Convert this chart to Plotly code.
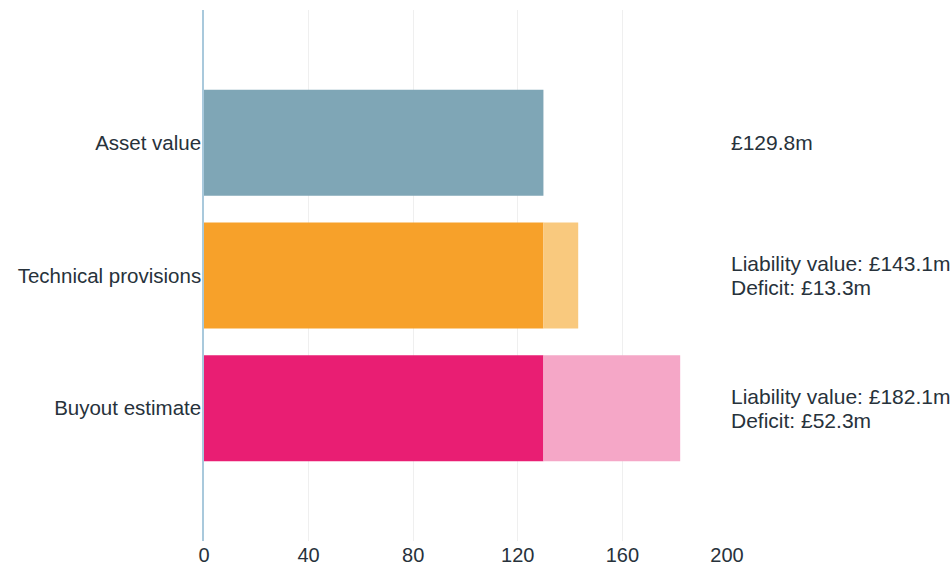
import plotly.graph_objects as go

# Scheme funding positions (£m)
categories = ["Asset value", "Technical provisions", "Buyout estimate"]
asset_values = [129.8, 129.8, 129.8]
deficits = [0.0, 13.3, 52.3]
x_ticks = [0, 40, 80, 120, 160, 200]

base_colors = ["#7fa6b6", "#f7a12a", "#e91e73"]
deficit_colors = ["rgba(0,0,0,0)", "#f9c97e", "#f5a7c7"]
text_color = "#27323b"
font_family = "Arial, 'Liberation Sans', sans-serif"

positions = list(range(len(categories)))

fig = go.Figure()
fig.add_trace(go.Bar(
    y=positions, x=asset_values, orientation="h",
    marker=dict(color=base_colors, line=dict(width=0)),
    width=0.8, hoverinfo="skip", showlegend=False,
))
fig.add_trace(go.Bar(
    y=positions, x=deficits, base=asset_values, orientation="h",
    marker=dict(color=deficit_colors, line=dict(width=0)),
    width=0.8, hoverinfo="skip", showlegend=False,
))

# Value labels to the right of the plot
label_font = dict(size=21, color=text_color, family=font_family)
for i, (a, d) in enumerate(zip(asset_values, deficits)):
    if d == 0:
        lines = [(f"£{a:.1f}m", 0)]
    else:
        lines = [(f"Liability value: £{a + d:.1f}m", 12), (f"Deficit: £{d:.1f}m", -12)]
    for text, shift in lines:
        fig.add_annotation(
            x=1.003, xref="paper", y=i, yref="y", yshift=shift,
            text=text, showarrow=False, xanchor="left", yanchor="middle",
            align="left", font=label_font,
        )

fig.update_layout(
    width=952, height=566,
    margin=dict(l=204, r=225, t=10, b=25, autoexpand=False),
    paper_bgcolor="white", plot_bgcolor="white",
    barmode="overlay",
    font=dict(family=font_family, color=text_color),
    xaxis=dict(
        range=[0, 200], tickvals=x_ticks, showgrid=True, automargin=False,
        gridcolor="#efefef", gridwidth=1, zeroline=False, showline=False,
        tickfont=dict(size=20, color=text_color), ticks="",
    ),
    yaxis=dict(
        range=[3, -1], tickvals=positions, ticktext=categories, automargin=False,
        showgrid=False, zeroline=False, showline=True,
        linecolor="#a9c9dc", linewidth=1.5, ticks="",
        tickfont=dict(size=20.5, color=text_color), ticklabelstandoff=-3,
    ),
)

fig.write_html("out.html")
